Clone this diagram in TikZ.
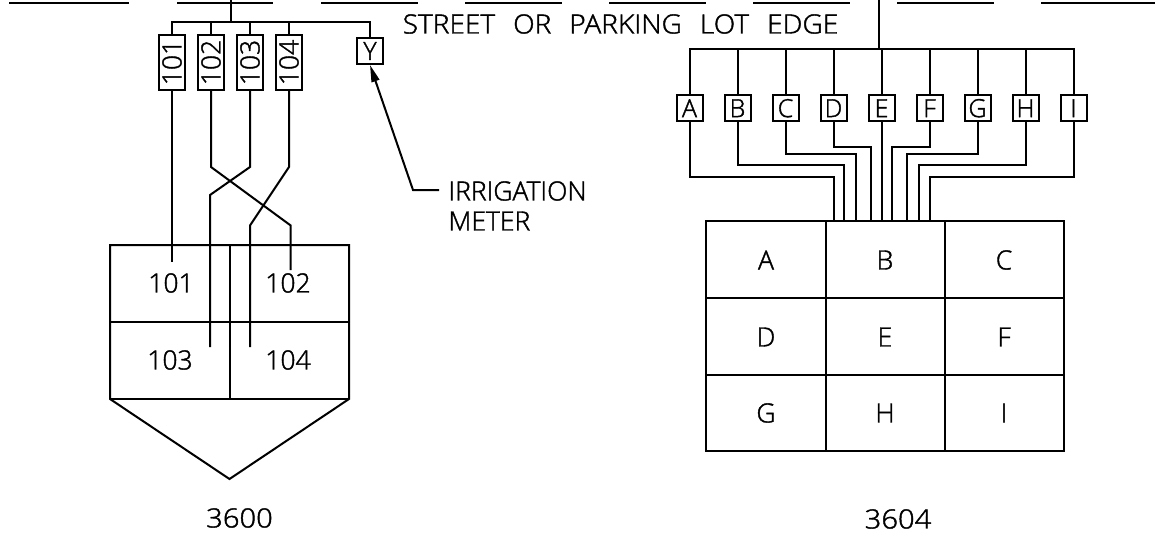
\documentclass[tikz,border=0pt]{standalone}
\usepackage{fontspec}
\usepackage{graphicx}
\usetikzlibrary{arrows.meta}
\setmainfont{Open Sans}[UprightFont=* Light,UprightFeatures={FakeBold=1.5}]
\newcommand{\sx}[2]{\scalebox{#1}[1]{#2}}
\newcommand{\gap}{\hspace{17pt}}
\tikzset{
  x=1pt,y=-1pt,
  every path/.style={line width=2pt,line join=miter},
  lbl/.style={inner sep=0pt,font=\fontsize{26.5}{26.5}\selectfont},
  mark box/.style={draw,inner sep=0pt,minimum width=26pt,minimum height=26pt,font=\fontsize{25}{25}\selectfont},
  tall box/.style={draw,rotate=90,inner sep=0pt,minimum width=55pt,minimum height=26pt,font=\fontsize{26.5}{26.5}\selectfont},
  leader/.style={-{Triangle[length=17pt,width=8pt]}},
}
\begin{document}
\begin{tikzpicture}
\useasboundingbox (0,0) rectangle (1155,535);
% street edge
\foreach \a/\b in {9/129,177/273,321/418,465/562,609/706,753/850,897/994,1041/1155}
  \draw (\a,2.7) -- (\b,2.7);
\node[lbl] (street) at (620.5,24) {\sx{1.06}{STREET\gap OR\gap PARKING\gap LOT\gap EDGE}};
% 3600 boxes
\coordinate (trunkL) at (230.5,0);
\coordinate (busL) at (230.5,22.5);
\node[tall box] (b101) at (172,62.5) {101};
\node[tall box] (b102) at (211,62.5) {102};
\node[tall box] (b103) at (250,62.5) {103};
\node[tall box] (b104) at (289,62.5) {104};
\node[mark box] (bY) at (370,51) {Y};
\draw (trunkL) -- (busL);
\draw (b101.east) |- (busL) -| (bY.north);
\draw (b102.east) -- (b102.east |- busL);
\draw (b103.east) -- (b103.east |- busL);
\draw (b104.east) -- (b104.east |- busL);
% 3600 building
\coordinate (LA) at (110,245);
\coordinate (LB) at (349,245);
\coordinate (LC) at (349,399);
\coordinate (LD) at (110,399);
\coordinate (LE) at (229.5,479);
\coordinate (LF) at (229.5,245);
\coordinate (LG) at (229.5,399);
\coordinate (LH) at (110,322);
\coordinate (LI) at (349,322);
\draw (LA) -- (LB) -- (LC) -- (LE) -- (LD) -- cycle;
\draw (LD) -- (LC);
\draw (LF) -- (LG);
\draw (LH) -- (LI);
\node[lbl] (t101) at (171,283) {101};
\node[lbl] (t102) at (288,283) {102};
\node[lbl] (t103) at (170,360) {103};
\node[lbl] (t104) at (288,360) {104};
\node[lbl] (n3600) at (239.5,518) {\sx{1.1}{3600}};
% 3600 wires
\coordinate (e101) at (172,262);
\coordinate (e102) at (290.7,270);
\coordinate (e103) at (210,347);
\coordinate (e104) at (250,347);
\draw (b101.west) -- (e101);
\draw (b102.west) -- ++(0,76) -- (e102 |- 0,225.5) -- (e102);
\draw (b103.west) -- ++(0,76) -- (e103 |- 0,195) -- (e103);
\draw (b104.west) -- ++(0,76) -- (e104 |- 0,225.5) -- (e104);
% irrigation
\node[lbl,anchor=west] (irr) at (447.5,191) {IRRIGATION};
\node[lbl,anchor=west] (met) at (447.5,221) {METER};
\coordinate (elbow) at (413,190);
\coordinate (lead) at (439,190);
\draw[leader] (lead) -- (elbow) -- (bY.south);
% 3604 boxes
\coordinate (trunkR) at (878.5,0);
\coordinate (busR) at (878.5,49);
\draw (trunkR) -- (busR);
\foreach \n/\x in {A/689.5,B/737.5,C/785.5,D/833.5,E/881.5,F/929.5,G/977.5,H/1025.5,I/1073.5}
  \node[mark box] (m\n) at (\x,108.2) {\n};
\draw (mA.north) |- (busR) -| (mI.north);
\foreach \n in {B,C,D,E,F,G,H}
  \draw (m\n.north) -- (m\n.north |- busR);
% 3604 grid
\coordinate (G1) at (706,220.5);
\coordinate (G2) at (1064,451);
\draw (G1) rectangle (G2);
\coordinate (V1) at (825.5,220.5);
\coordinate (V2) at (945,220.5);
\coordinate (H1) at (706,297.5);
\coordinate (H2) at (706,374.5);
\draw (V1) -- (V1 |- G2);
\draw (V2) -- (V2 |- G2);
\draw (H1) -- (H1 -| G2);
\draw (H2) -- (H2 -| G2);
\foreach \n/\x/\y in {A/766/260,B/885/260,C/1004/260,D/766/337,E/885/337,F/1004/337,G/766/413,H/885/413,I/1004/413}
  \node[lbl] (c\n) at (\x,\y) {\n};
\node[lbl] (n3604) at (898,519) {\sx{1.1}{3604}};
% 3604 wires
\foreach \n/\y/\x in {A/177/833.5,B/165/843.5,C/154/855.8,D/147/870.5,F/147/892.4,G/154/907,H/165/919.4,I/177/930}{
  \coordinate (w\n) at (\x,220.5);
  \draw (m\n.south) -- (m\n.south |- 0,\y) -| (w\n);
}
\coordinate (wE) at (881.5,220.5);
\draw (mE.south) -- (wE);
\end{tikzpicture}
\end{document}
